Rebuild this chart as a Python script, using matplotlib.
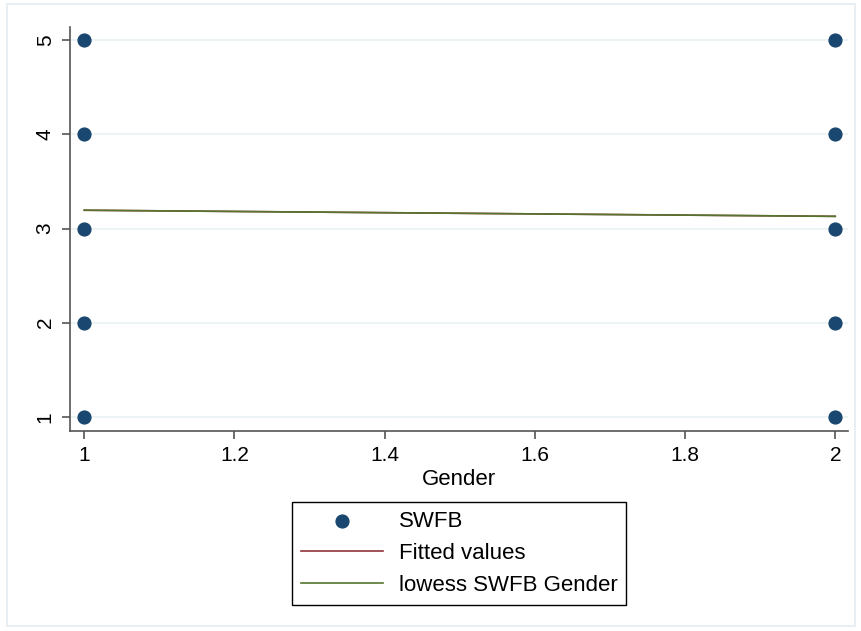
import matplotlib.pyplot as plt
from matplotlib.patches import Rectangle

plt.rcParams['font.family'] = ['Liberation Sans', 'DejaVu Sans']
plt.rcParams['font.size'] = 15

# scatter data (Gender vs SWFB)
gender = [1, 1, 1, 1, 1, 2, 2, 2, 2, 2]
swfb = [1, 2, 3, 4, 5, 1, 2, 3, 4, 5]
# fitted / lowess endpoints
fit_x = [1, 2]
fit_y = [3.195, 3.13]
low_y = [3.195, 3.13]

fig = plt.figure(figsize=(8.62, 6.31), dpi=100)
fig.patches.append(Rectangle((0.008, 0.008), 0.984, 0.985, transform=fig.transFigure,
                             fill=False, edgecolor='#e8eff2', linewidth=1.5))
ax = fig.add_axes([0.0812, 0.317, 0.9026, 0.640])

ax.grid(axis='y', color='#eaf2f3', linewidth=1.2, zorder=0)
ax.scatter(gender, swfb, s=85, color='#1a476f', zorder=3, label='SWFB')
ax.plot(fit_x, fit_y, color='#90353b', linewidth=1.2, zorder=2, label='Fitted values')
ax.plot(fit_x, low_y, color='#55752f', linewidth=1.2, zorder=2, label='lowess SWFB Gender')

ax.set_xlim(0.981, 2.017)
ax.set_ylim(0.85, 5.14)
ax.set_xticks([1, 1.2, 1.4, 1.6, 1.8, 2])
ax.set_xticklabels(['1', '1.2', '1.4', '1.6', '1.8', '2'])
ax.set_yticks([1, 2, 3, 4, 5])
ax.set_yticklabels(['1', '2', '3', '4', '5'], rotation=90, va='center')
ax.set_xlabel('Gender', fontsize=16, labelpad=3)

for s in ['top', 'right']:
    ax.spines[s].set_visible(False)
for s in ['left', 'bottom']:
    ax.spines[s].set_color('#555555')
    ax.spines[s].set_linewidth(1.2)
ax.tick_params(colors='#555555', labelcolor='black', length=6, width=1.2, pad=5)

leg = fig.legend(loc='center', bbox_to_anchor=(0.5325, 0.1228), ncol=1,
                 fontsize=16, handlelength=3.7, handletextpad=0.7,
                 fancybox=False, framealpha=1, edgecolor='black',
                 borderpad=0.4, labelspacing=0.5, borderaxespad=0)
leg.get_frame().set_linewidth(1.0)

fig.savefig('out.png', dpi=100, facecolor='white')
